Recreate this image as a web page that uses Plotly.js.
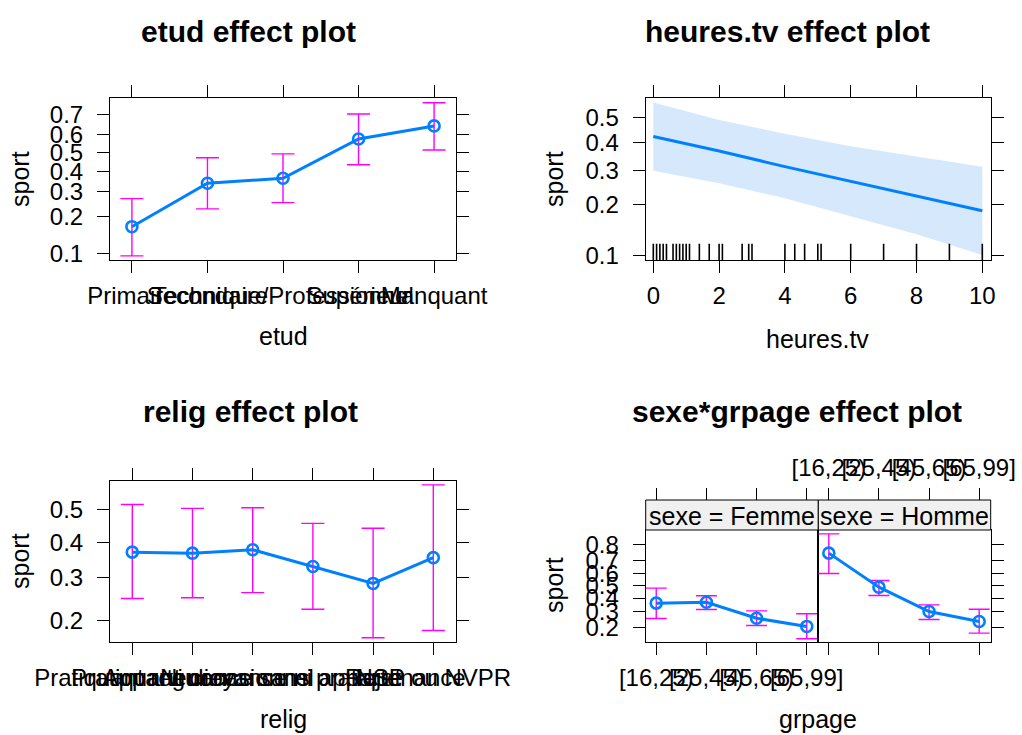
<!DOCTYPE html>
<html>
<head>
<meta charset="utf-8">
<script src="https://cdn.plot.ly/plotly-3.0.1.min.js"></script>
<style>html,body{margin:0;padding:0;background:#fff;}#chart{width:1022px;height:735px;}</style>
</head>
<body>
<div id="chart"></div>
<script>
// ---------- DATA (probabilities) ----------
const etud_levels = ["Primaire", "Secondaire", "Technique/Professionnel", "Supérieur", "Manquant"];
const etud_fit    = [0.166, 0.340, 0.365, 0.576, 0.644];
const etud_lower  = [0.095, 0.227, 0.252, 0.436, 0.516];
const etud_upper  = [0.269, 0.474, 0.495, 0.701, 0.750];
const etud_ticks  = [0.1, 0.2, 0.3, 0.4, 0.5, 0.6, 0.7];

const tv_x     = [0, 2, 4, 6, 8, 10];
const tv_fit   = [0.425, 0.370, 0.314, 0.266, 0.223, 0.185];
const tv_lower = [0.300, 0.260, 0.217, 0.172, 0.135, 0.101];
const tv_upper = [0.559, 0.490, 0.436, 0.388, 0.350, 0.314];
const tv_rug   = [0, 0.1, 0.2, 0.3, 0.4, 0.6, 0.7, 0.8, 0.9, 1, 1.1, 1.4, 1.7, 2, 2.1, 2.7, 2.9, 3, 4, 4.3, 4.6, 5, 5.1, 6, 7, 8, 9, 10];
const tv_ticks = [0.1, 0.2, 0.3, 0.4, 0.5];
const tv_xticks = [0, 2, 4, 6, 8, 10];

const relig_levels = ["Pratiquant regulier", "Pratiquant occasionnel", "Appartenance sans pratique", "Ni croyance ni appartenance", "Rejet", "NSP ou NVPR"];
const relig_fit   = [0.371, 0.368, 0.378, 0.330, 0.285, 0.355];
const relig_lower = [0.248, 0.250, 0.262, 0.224, 0.168, 0.181];
const relig_upper = [0.517, 0.505, 0.507, 0.458, 0.443, 0.578];
const relig_ticks = [0.2, 0.3, 0.4, 0.5];

const grpage_levels = ["[16,25)", "[25,45)", "[45,65)", "[65,99]"];
const sexe_levels   = ["Femme", "Homme"];
const femme_fit   = [0.360, 0.367, 0.254, 0.206];
const femme_lower = [0.252, 0.313, 0.211, 0.147];
const femme_upper = [0.481, 0.418, 0.303, 0.283];
const homme_fit   = [0.748, 0.489, 0.299, 0.234];
const homme_lower = [0.601, 0.420, 0.246, 0.172];
const homme_upper = [0.849, 0.544, 0.347, 0.315];
const sg_ticks = [0.2, 0.3, 0.4, 0.5, 0.6, 0.7, 0.8];

// ---------- helpers ----------
const W = 1022, H = 735;
const logit = p => Math.log(p / (1 - p));
const L = arr => arr.map(logit);
const px = x => x / W;
const py = y => 1 - y / H;
const FONT = "Liberation Sans, Arial, sans-serif";
const BLUE = "#0080ff", MAG = "#ff00ff";
const TICKF = {family: FONT, size: 24, color: "#000"};

function errTrace(cats, fit, lo, up, xa, ya, w) {
  const f = L(fit);
  return {
    type: "scatter", mode: "markers", x: cats, y: f, xaxis: xa, yaxis: ya,
    marker: {size: 1, color: "rgba(0,0,0,0)"},
    error_y: {type: "data", symmetric: false,
      array: L(up).map((v, i) => v - f[i]),
      arrayminus: f.map((v, i) => v - logit(lo[i])),
      color: MAG, thickness: 1.4, width: w},
    hoverinfo: "skip"
  };
}
function lineTrace(cats, fit, xa, ya) {
  return {
    type: "scatter", mode: "lines+markers", x: cats, y: L(fit), xaxis: xa, yaxis: ya,
    line: {color: BLUE, width: 3},
    marker: {symbol: "circle-open", size: 11, color: BLUE, line: {width: 2.6, color: BLUE}},
    hoverinfo: "skip"
  };
}
function xAx(dom, anchor, range, extra) {
  return Object.assign({
    domain: dom, anchor: anchor, range: range, ticks: "outside", ticklen: 12,
    tickcolor: "#000", tickwidth: 1, showline: true, linecolor: "#000", linewidth: 1,
    mirror: "ticks", showgrid: false, zeroline: false, tickfont: TICKF,
    tickangle: 0, ticklabelstandoff: 2
  }, extra || {});
}
function yAx(dom, anchor, range, ticks, extra) {
  return Object.assign({
    domain: dom, anchor: anchor, range: range, ticks: "outside", ticklen: 12,
    tickcolor: "#000", tickwidth: 1, showline: true, linecolor: "#000", linewidth: 1,
    mirror: "ticks", showgrid: false, zeroline: false, tickfont: TICKF,
    tickvals: L(ticks), ticktext: ticks.map(t => t.toFixed(1)),
    ticklabelstandoff: 9
  }, extra || {});
}

// ---------- traces ----------
const traces = [];
// panel 1 etud
traces.push(errTrace(etud_levels, etud_fit, etud_lower, etud_upper, "x", "y", 11.5));
traces.push(lineTrace(etud_levels, etud_fit, "x", "y"));
// panel 2 heures.tv
traces.push({
  type: "scatter", mode: "lines", xaxis: "x2", yaxis: "y2",
  x: tv_x.concat(tv_x.slice().reverse()),
  y: L(tv_upper).concat(L(tv_lower).reverse()),
  fill: "toself", fillcolor: "#d6e9fc", line: {width: 0, color: "rgba(0,0,0,0)"},
  hoverinfo: "skip"
});
traces.push({
  type: "scatter", mode: "lines", xaxis: "x2", yaxis: "y2", x: tv_x, y: L(tv_fit),
  line: {color: BLUE, width: 3}, hoverinfo: "skip"
});
// panel 3 relig
traces.push(errTrace(relig_levels, relig_fit, relig_lower, relig_upper, "x3", "y3", 11.5));
traces.push(lineTrace(relig_levels, relig_fit, "x3", "y3"));
// panel 4 sexe*grpage
traces.push(errTrace(grpage_levels, femme_fit, femme_lower, femme_upper, "x4", "y4", 10.5));
traces.push(lineTrace(grpage_levels, femme_fit, "x4", "y4"));
traces.push(errTrace(grpage_levels, homme_fit, homme_lower, homme_upper, "x5", "y5", 10.5));
traces.push(lineTrace(grpage_levels, homme_fit, "x5", "y5"));
// dummy traces for top tick axes (above strips)
traces.push({type: "scatter", mode: "markers", x: grpage_levels, y: grpage_levels.map(() => null), xaxis: "x6", yaxis: "y4", hoverinfo: "skip", marker: {size: 1, color: "rgba(0,0,0,0)"}});
traces.push({type: "scatter", mode: "markers", x: grpage_levels, y: grpage_levels.map(() => null), xaxis: "x7", yaxis: "y5", hoverinfo: "skip", marker: {size: 1, color: "rgba(0,0,0,0)"}});

// ---------- layout ----------
const d1x = [px(110), px(456)], d2x = [px(645.7), px(990.7)];
const dTop = [py(260), py(98)], dBot = [py(642.3), py(481.3)];
const d4x = [px(645.7), px(818.3)], d5x = [px(818.3), px(990.7)];
const d4y = [py(641.7), py(530)];
const stripTop = 500;

const rugShapes = tv_rug.map(v => ({
  type: "line", xref: "x2", yref: "y2 domain", x0: v, x1: v, y0: 0, y1: 0.1,
  line: {color: "#000", width: 1.6}
}));
const stripShapes = [d4x, d5x].map(d => ({
  type: "rect", xref: "paper", yref: "paper", x0: d[0], x1: d[1], y0: py(530), y1: py(stripTop),
  fillcolor: "#f0f0f0", line: {color: "#000", width: 1}
}));

function ann(text, x, y, opts) {
  return Object.assign({text: text, xref: "paper", yref: "paper", x: px(x), y: py(y),
    showarrow: false, xanchor: "center", yanchor: "middle",
    font: {family: FONT, size: 25, color: "#000"}}, opts || {});
}
const titleFont = {family: FONT, size: 30, color: "#000", weight: "bold"};
const annotations = [
  ann("<b>etud effect plot</b>", 248, 31, {font: titleFont}),
  ann("<b>heures.tv effect plot</b>", 787, 31, {font: titleFont}),
  ann("<b>relig effect plot</b>", 250, 411, {font: titleFont}),
  ann("<b>sexe*grpage effect plot</b>", 797, 411, {font: titleFont}),
  ann("etud", 283, 336),
  ann("heures.tv", 817, 339),
  ann("relig", 283, 719),
  ann("grpage", 818, 719),
  ann("sport", 20, 179, {textangle: -90}),
  ann("sport", 554, 179, {textangle: -90}),
  ann("sport", 20, 561, {textangle: -90}),
  ann("sport", 554, 585, {textangle: -90}),
  ann("sexe = " + sexe_levels[0], 732, 516),
  ann("sexe = " + sexe_levels[1], 904.5, 516)
];

const catX = {type: "category", categoryorder: "array"};
const layout = {
  width: W, height: H, margin: {l: 0, r: 0, t: 0, b: 0},
  paper_bgcolor: "#fff", plot_bgcolor: "#fff", showlegend: false, hovermode: false,
  font: {family: FONT, size: 24, color: "#000"},
  xaxis: xAx(d1x, "y", [-0.29, 4.29], Object.assign({categoryarray: etud_levels}, catX)),
  yaxis: yAx(dTop, "x", [-2.344, 1.204], etud_ticks),
  xaxis2: xAx(d2x, "y2", [-0.231, 10.255], {tickvals: tv_xticks}),
  yaxis2: yAx(dTop, "x2", [-2.265, 0.309], tv_ticks),
  xaxis3: xAx(d1x, "y3", [-0.37, 5.377], Object.assign({categoryarray: relig_levels}, catX)),
  yaxis3: yAx(dBot, "x3", [-1.657, 0.359], relig_ticks),
  xaxis4: xAx(d4x, "y4", [-0.21, 3.23], Object.assign({categoryarray: grpage_levels, mirror: true}, catX)),
  yaxis4: yAx(d4y, "x4", [-1.857, 1.857], sg_ticks, {mirror: true}),
  xaxis5: xAx(d5x, "y5", [-0.21, 3.23], Object.assign({categoryarray: grpage_levels, mirror: true, showticklabels: false}, catX)),
  yaxis5: yAx(d4y, "x5", [-1.857, 1.857], sg_ticks, {mirror: true, side: "right", showticklabels: false}),
  xaxis6: Object.assign(xAx(d4x, "free", [-0.21, 3.23], Object.assign({categoryarray: grpage_levels, showticklabels: false}, catX)),
    {overlaying: "x4", side: "top", position: py(stripTop), showline: false, mirror: false}),
  xaxis7: Object.assign(xAx(d5x, "free", [-0.21, 3.23], Object.assign({categoryarray: grpage_levels}, catX)),
    {overlaying: "x5", side: "top", position: py(stripTop), showline: false, mirror: false}),
  shapes: rugShapes.concat(stripShapes),
  annotations: annotations
};

Plotly.newPlot("chart", traces, layout, {staticPlot: true, displayModeBar: false});
</script>
</body>
</html>
